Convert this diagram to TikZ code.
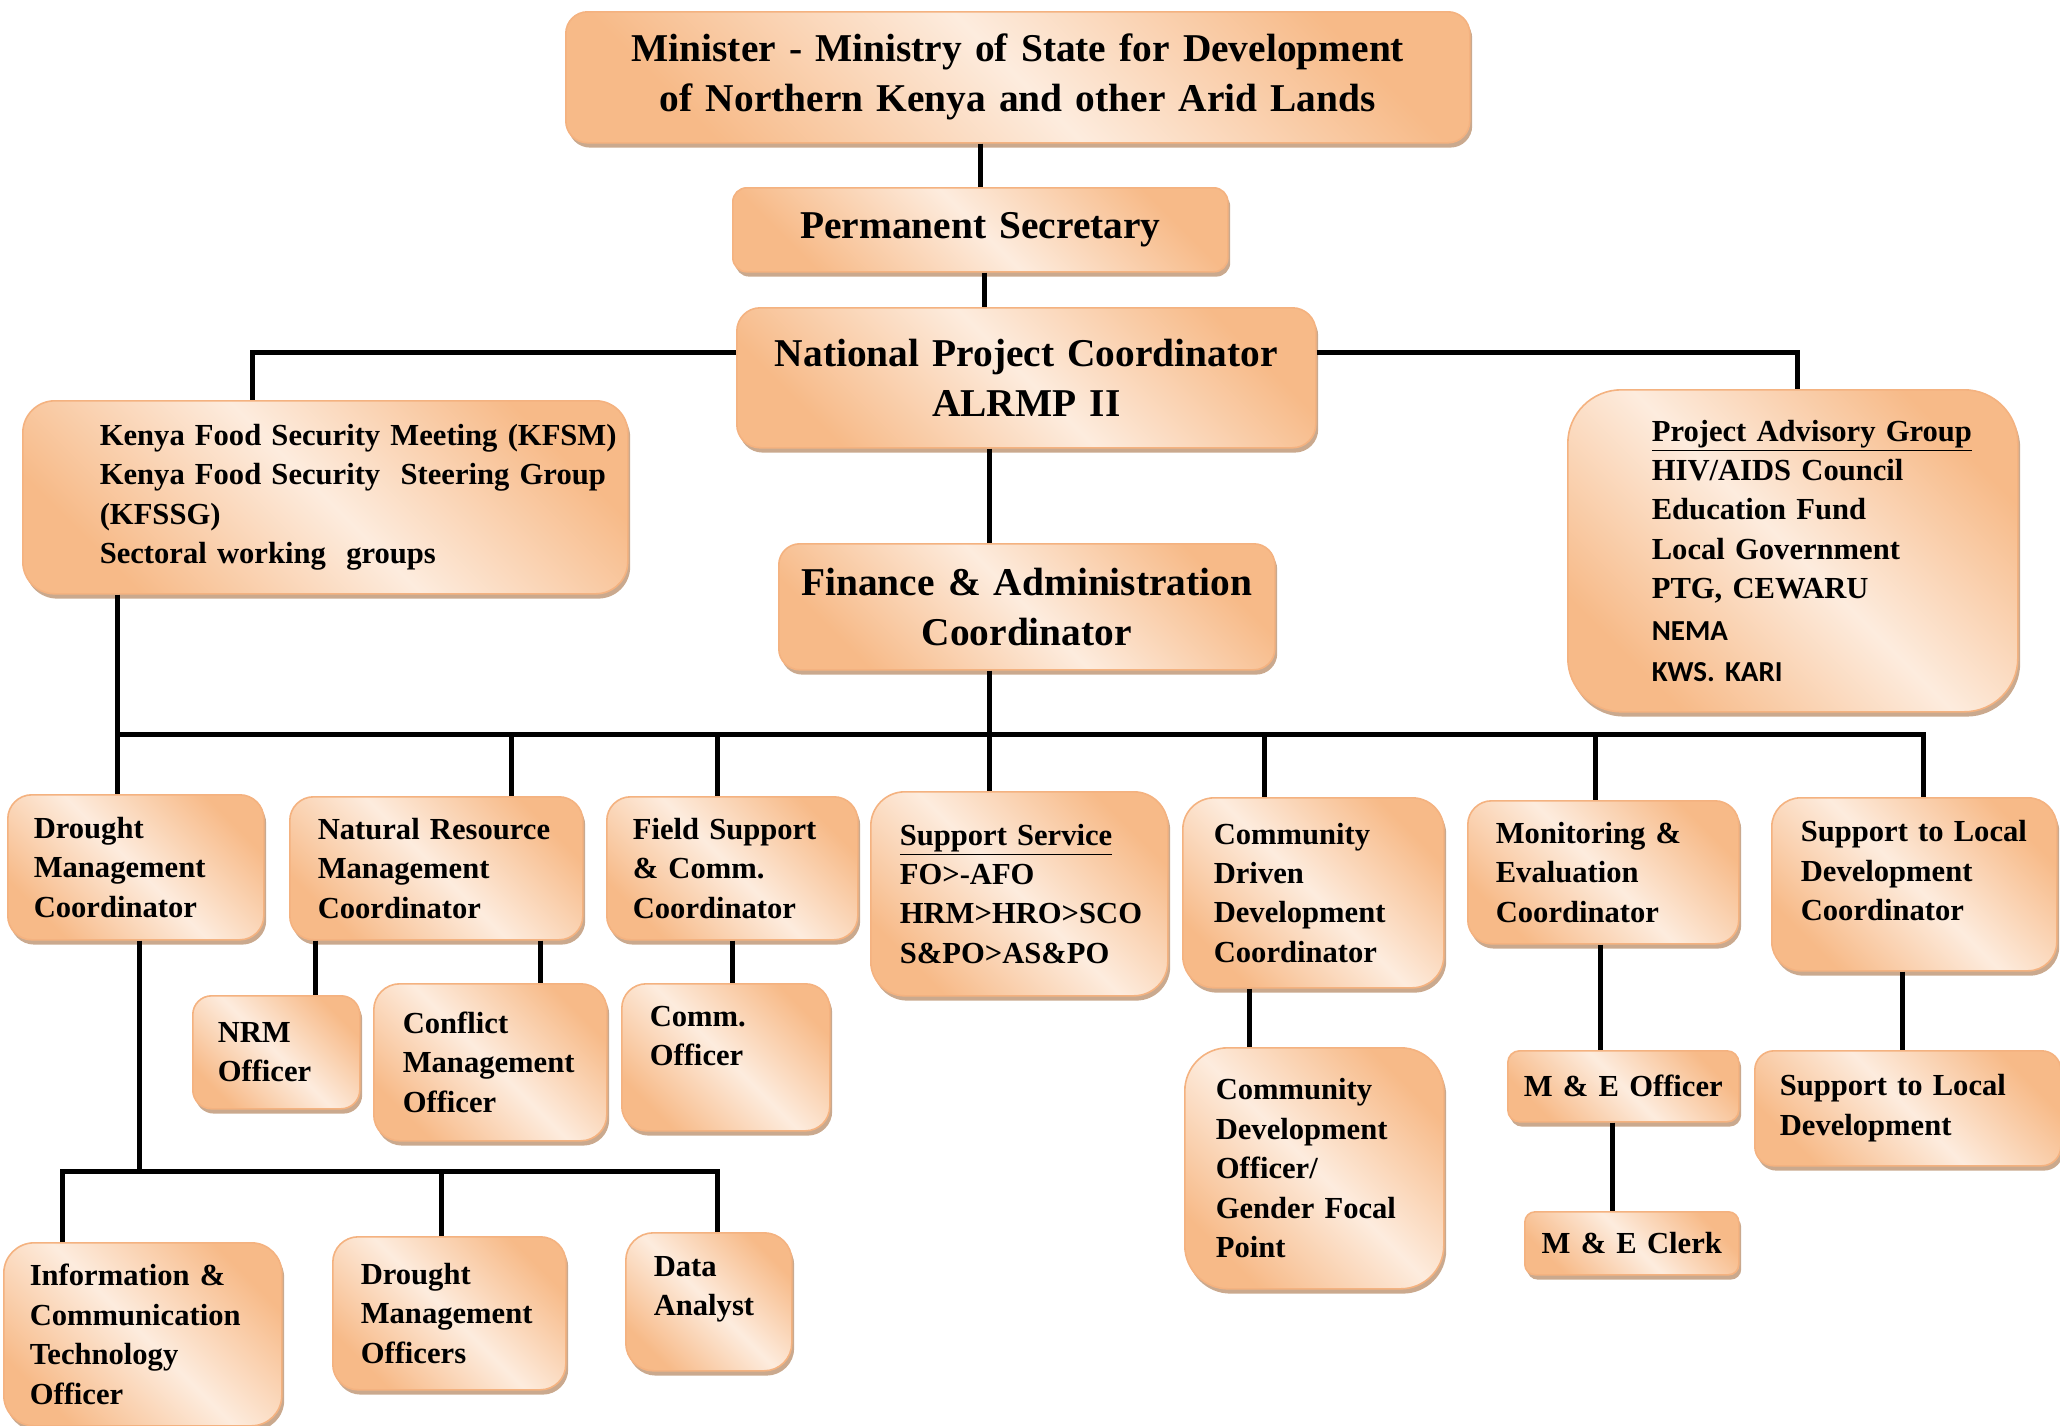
\documentclass[tikz,border=0pt]{standalone}
\usepackage{fontspec}
\setmainfont{Liberation Serif}
\newfontfamily\calib{Carlito}
\usetikzlibrary{shadows}
\definecolor{orgc}{RGB}{247,186,136}
\definecolor{lgtc}{RGB}{253,236,222}
\definecolor{edgec}{RGB}{244,178,128}
\definecolor{shdc}{RGB}{196,160,130}
\newcommand{\lt}[2]{\leftskip=#1\relax #2\par}
\begin{document}
\begin{tikzpicture}[x=0.5pt,y=-0.5pt,
  box/.style={draw=edgec, line width=0.8pt, top color=orgc, bottom color=orgc,
    middle color=lgtc, shading angle=-45,
    drop shadow={shadow xshift=1.2pt, shadow yshift=-2.4pt, fill=shdc, opacity=0.9},
    anchor=north west, inner xsep=0pt, inner ysep=0pt, align=left,
    font=\bfseries\fontsize{15.3}{19.7}\selectfont},
  big/.style={box, align=center, font=\bfseries\fontsize{19.7}{25}\selectfont},
  conn/.style={line width=2.5pt, draw=black}
]
\useasboundingbox (0,0) rectangle (2060,1425);

% top
\node[big, text width=452pt, minimum height=65.5pt, rounded corners=10.9pt] (min) at (565,11)
  {Minister - Ministry of State for Development\\of Northern Kenya and other Arid Lands};
\node[big, text width=247.5pt, minimum height=42pt, rounded corners=7pt] (ps) at (732,187)
  {Permanent Secretary};
\node[big, text width=289.5pt, minimum height=70pt, rounded corners=11.7pt] (npc) at (736,307)
  {National Project Coordinator\\ALRMP II};
\node[box, text width=302.5pt, minimum height=96.5pt, rounded corners=16pt] (kfsm) at (22,400)
  {\lt{38.5pt}{Kenya Food Security Meeting (KFSM)\\Kenya Food Security \ Steering Group\\(KFSSG)\\Sectoral working \ groups}};
\node[box, text width=225pt, minimum height=161pt, rounded corners=26.8pt] (pag) at (1567,389)
  {\lt{42pt}{\underline{Project Advisory Group}\\HIV/AIDS Council\\Education Fund\\Local Government\\PTG, CEWARU\\[1pt]{\calib\fontsize{14.5}{19.7}\selectfont NEMA}\\[1pt]{\calib\fontsize{14.5}{19.7}\selectfont KWS. KARI}}};
\node[big, text width=248pt, minimum height=63pt, rounded corners=10.5pt] (fa) at (778,543)
  {Finance \& Administration\\Coordinator};

% row 2
\node[box, text width=128pt, minimum height=72.5pt, rounded corners=12pt] (dmc) at (7,794)
  {\lt{13pt}{Drought\\Management\\Coordinator}};
\node[box, text width=146.5pt, minimum height=71.5pt, rounded corners=11.9pt] (nrmc) at (289,796)
  {\lt{14pt}{Natural Resource\\Management\\Coordinator}};
\node[box, text width=125.5pt, minimum height=71.5pt, rounded corners=11.9pt] (fsc) at (606,796)
  {\lt{13pt}{Field Support\\\& Comm.\\Coordinator}};
\node[box, text width=148.5pt, minimum height=102pt, rounded corners=17pt] (ss) at (870,791)
  {\lt{14.5pt}{\underline{Support Service}\\FO>-AFO\\HRM>HRO>SCO\\S\&PO>AS\&PO}};
\node[box, text width=130.5pt, minimum height=95pt, rounded corners=15.8pt] (cddc) at (1182,797)
  {\lt{15.5pt}{Community\\Driven\\Development\\Coordinator}};
\node[box, text width=135.5pt, minimum height=71.5pt, rounded corners=11.9pt] (mec) at (1467,800)
  {\lt{14pt}{Monitoring \&\\Evaluation\\Coordinator}};
\node[box, text width=142.5pt, minimum height=86.5pt, rounded corners=14.4pt] (sldc) at (1771,797)
  {\lt{14.5pt}{Support to Local\\Development\\Coordinator\\[-6pt]\mbox{}}};

% row 3
\node[box, text width=83.5pt, minimum height=56.5pt, rounded corners=9.4pt] (nrm) at (192,995)
  {\lt{12.5pt}{NRM\\Officer}};
\node[box, text width=116.5pt, minimum height=78.5pt, rounded corners=13pt] (cmo) at (373,983)
  {\lt{14.5pt}{Conflict\\Management\\Officer}};
\node[box, text width=104pt, minimum height=73.5pt, rounded corners=12.2pt] (comm) at (621,983)
  {\lt{14pt}{Comm.\\Officer\\[2pt]\mbox{}}};
\node[box, text width=129.5pt, minimum height=120.5pt, rounded corners=21.6pt] (cdo) at (1184,1047)
  {\lt{15.5pt}{Community\\Development\\Officer/\\Gender Focal\\Point}};
\node[box, align=center, text width=115.5pt, minimum height=35.5pt, rounded corners=5.9pt] (meo) at (1507,1050)
  {M \& E Officer};
\node[box, align=center, text width=107pt, minimum height=31.5pt, rounded corners=5.2pt] (mecl) at (1524,1211)
  {M \& E Clerk};
\node[box, text width=153pt, minimum height=57.5pt, rounded corners=9.6pt] (sld) at (1754,1050)
  {\lt{12.5pt}{Support to Local\\Development}};

% row 4
\node[box, text width=139pt, minimum height=91.5pt, rounded corners=15.2pt] (ict) at (3,1242)
  {\lt{13pt}{Information \&\\Communication\\Technology\\Officer}};
\node[box, text width=116.5pt, minimum height=76.5pt, rounded corners=12.7pt] (dmo) at (332,1236)
  {\lt{14pt}{Drought\\Management\\Officers}};
\node[box, text width=83pt, minimum height=69pt, rounded corners=13.8pt] (da) at (625,1232)
  {\lt{14pt}{Data\\Analyst\\[-4pt]\mbox{}}};

% connectors
\coordinate (busL) at (117,734);
\coordinate (busR) at (1923,734);
\coordinate (b2L) at (62,1171);
\coordinate (b2R) at (717,1171);

\draw[conn] (min.south -| 980,0) -- (ps.north -| 980,0);
\draw[conn] (ps.south -| 984,0) -- (npc.north -| 984,0);
\draw[conn] (npc.west |- 0,352) -| (kfsm.north -| 252,0);
\draw[conn] (npc.east |- 0,352) -| (pag.north -| 1797,0);
\draw[conn] (npc.south -| 989,0) -- (fa.north -| 989,0);
\draw[conn] (fa.south -| 989,0) -- (ss.north -| 989,0);
\draw[conn] (kfsm.south -| busL) -- (dmc.north -| busL);
\draw[conn] (busL) -- (busR) -- (sldc.north -| busR);
\draw[conn] (busL -| 511,0) -- (nrmc.north -| 511,0);
\draw[conn] (busL -| 717,0) -- (fsc.north -| 717,0);
\draw[conn] (busL -| 1264,0) -- (cddc.north -| 1264,0);
\draw[conn] (busL -| 1595,0) -- (mec.north -| 1595,0);

\draw[conn] (nrmc.south -| 315,0) -- (nrm.north -| 315,0);
\draw[conn] (nrmc.south -| 540,0) -- (cmo.north -| 540,0);
\draw[conn] (fsc.south -| 732,0) -- (comm.north -| 732,0);
\draw[conn] (cddc.south -| 1249,0) -- (cdo.north -| 1249,0);
\draw[conn] (mec.south -| 1600,0) -- (meo.north -| 1600,0);
\draw[conn] (meo.south -| 1612,0) -- (mecl.north -| 1612,0);
\draw[conn] (sldc.south -| 1902,0) -- (sld.north -| 1902,0);

\draw[conn] (dmc.south -| 139,0) -- (b2L -| 139,0);
\draw[conn] (ict.north -| b2L) -- (b2L) -- (b2R) -- (da.north -| b2R);
\draw[conn] (b2L -| 441,0) -- (dmo.north -| 441,0);
\end{tikzpicture}
\end{document}
